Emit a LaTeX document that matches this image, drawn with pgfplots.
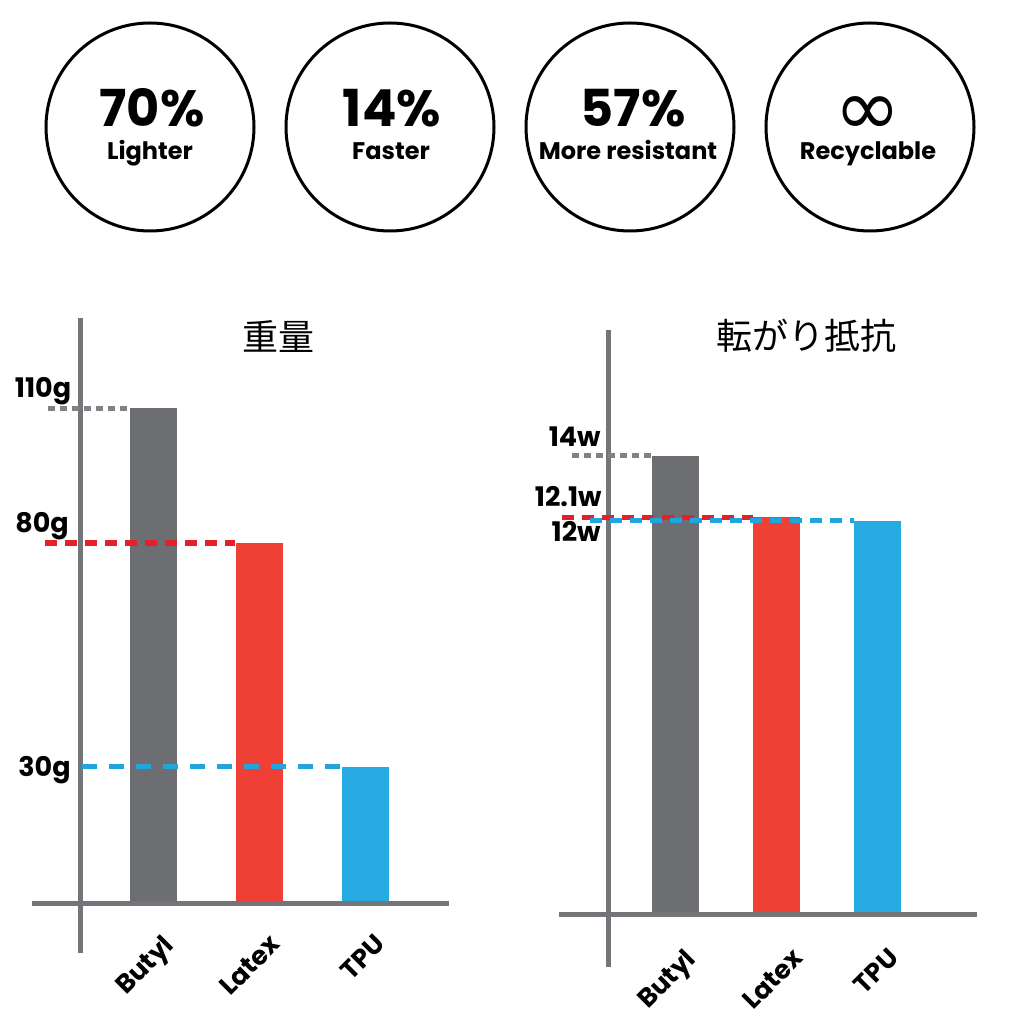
\documentclass[border=0pt]{standalone}
\usepackage{pgfplots}
\pgfplotsset{compat=1.18}
\usepackage{fontspec}
\setmainfont{Poppins}
\newfontfamily\cjk{Noto Sans CJK JP}
\newfontfamily\djv{DejaVu Sans}
\definecolor{bargray}{HTML}{6D6E71}
\definecolor{axgray}{HTML}{747578}
\definecolor{barred}{HTML}{EE4035}
\definecolor{dashred}{HTML}{E4202A}
\definecolor{barblue}{HTML}{27AAE1}
\definecolor{dashblue}{HTML}{22A5DF}
\definecolor{dotgray}{HTML}{808285}
\pgfplotsset{
  infobar/.style={ybar, bar width=23.5pt, bar shift=0pt, draw=none},
}
\begin{document}
\begin{tikzpicture}[x=0.5pt,y=0.5pt]
\path[fill=white] (0,0) rectangle (1018,1024);

% ---- top badges ----
\draw[line width=1.5pt] (150,897) circle[radius=52pt];
\draw[line width=1.5pt] (390,897) circle[radius=52pt];
\draw[line width=1.5pt] (630,897) circle[radius=52pt];
\draw[line width=1.5pt] (870,897) circle[radius=52pt];
\node[anchor=base, inner sep=0pt, font=\bfseries\fontsize{25.5}{25.5}\selectfont] at (152,897) {70\%};
\node[anchor=base, inner sep=0pt, font=\bfseries\fontsize{25.5}{25.5}\selectfont] at (392,897) {14\%};
\node[anchor=base, inner sep=0pt, font=\bfseries\fontsize{25.5}{25.5}\selectfont] at (633,897) {57\%};
\node[inner sep=0pt, font=\djv\fontsize{40}{40}\selectfont] at (868,908) {∞};
\node[anchor=base, inner sep=0pt, font=\bfseries\fontsize{12}{12}\selectfont] at (150,864) {Lighter};
\node[anchor=base, inner sep=0pt, font=\bfseries\fontsize{12}{12}\selectfont] at (391,864) {Faster};
\node[anchor=base, inner sep=0pt, font=\bfseries\fontsize{12}{12}\selectfont] at (628,864) {More resistant};
\node[anchor=base, inner sep=0pt, font=\bfseries\fontsize{12}{12}\selectfont] at (868,864) {Recyclable};

% ---- titles ----
\node[inner sep=0pt, font=\cjk\fontsize{18}{18}\selectfont] at (278,688) {重量};
\node[inner sep=0pt, font=\cjk\fontsize{18}{18}\selectfont] at (806,688) {転がり抵抗};

% ---- left chart: weight ----
\begin{axis}[at={(16pt,45.75pt)}, anchor=south west, scale only axis,
  width=208.5pt, height=307.25pt,
  xmin=-1.149, xmax=2.794, ymin=-7.03, ymax=130.1,
  axis line style={draw=none}, tick style={draw=none}, major tick length=0pt,
  ytick=\empty, xtick={0.075,1.085,2.085}, xticklabels={Butyl,Latex,TPU},
  xticklabel style={inner sep=0pt, font=\bfseries\fontsize{13}{13}\selectfont,
    rotate=45, anchor=north east},
  clip=false]
\addplot[axgray, line width=2.5pt, no marks] coordinates {(-1.149,-0.56) (2.794,-0.56)};
\addplot[axgray, line width=2.5pt, no marks] coordinates {(-0.695,130.1) (-0.695,-11.6)};
\addplot[infobar, fill=bargray] coordinates {(0,110)};
\addplot[infobar, fill=barred] coordinates {(1,80)};
\addplot[infobar, fill=barblue] coordinates {(2,30)};
\addplot[dotgray, line width=2.5pt, no marks, dash pattern=on 3.5pt off 2.5pt] coordinates {(-1.0,110) (-0.222,110)};
\addplot[dashred, line width=3pt, no marks, dash pattern=on 6pt off 4pt] coordinates {(-1.025,80) (0.77,80)};
\addplot[dashblue, line width=2.5pt, no marks, dash pattern=on 7.5pt off 6pt] coordinates {(-0.676,30) (1.764,30)};
\end{axis}
\node[anchor=base, inner sep=0pt, font=\bfseries\fontsize{13.5}{13.5}\selectfont] at (43,626) {110g};
\node[anchor=base, inner sep=0pt, font=\bfseries\fontsize{13.5}{13.5}\selectfont] at (42,491) {80g};
\node[anchor=base, inner sep=0pt, font=\bfseries\fontsize{13.5}{13.5}\selectfont] at (44.5,247) {30g};

% ---- right chart: rolling resistance ----
\begin{axis}[at={(279.5pt,38.75pt)}, anchor=south west, scale only axis,
  width=209pt, height=308.25pt,
  xmin=-1.145, xmax=2.981, ymin=-1.058, ymax=17.85,
  axis line style={draw=none}, tick style={draw=none}, major tick length=0pt,
  ytick=\empty, xtick={0.085,1.15,2.095}, xticklabels={Butyl,Latex,TPU},
  xticklabel style={inner sep=0pt, font=\bfseries\fontsize{13}{13}\selectfont,
    rotate=45, anchor=north east},
  clip=false]
\addplot[axgray, line width=2.5pt, no marks] coordinates {(-1.145,-0.077) (2.981,-0.077)};
\addplot[axgray, line width=2.5pt, no marks] coordinates {(-0.661,17.85) (-0.661,-1.687)};
\addplot[infobar, fill=bargray] coordinates {(0,14)};
\addplot[infobar, fill=barred] coordinates {(1,12.1)};
\addplot[infobar, fill=barblue] coordinates {(2,12)};
\addplot[dotgray, line width=2.5pt, no marks, dash pattern=on 3.5pt off 2.5pt] coordinates {(-1.017,14) (-0.227,14)};
\addplot[dashred, line width=2.5pt, no marks, dash pattern=on 6pt off 4pt] coordinates {(-1.115,12.1) (0.77,12.1)};
\addplot[dashblue, line width=2.5pt, no marks, dash pattern=on 6pt off 4pt] coordinates {(-0.839,12) (1.767,12)};
\end{axis}
\node[anchor=base east, inner sep=0pt, font=\bfseries\fontsize{13.5}{13.5}\selectfont] at (601,577) {14w};
\node[anchor=base east, inner sep=0pt, font=\bfseries\fontsize{13.5}{13.5}\selectfont] at (602,517) {12.1w};
\node[anchor=base east, inner sep=0pt, font=\bfseries\fontsize{13.5}{13.5}\selectfont] at (601,482) {12w};
\end{tikzpicture}
\end{document}
